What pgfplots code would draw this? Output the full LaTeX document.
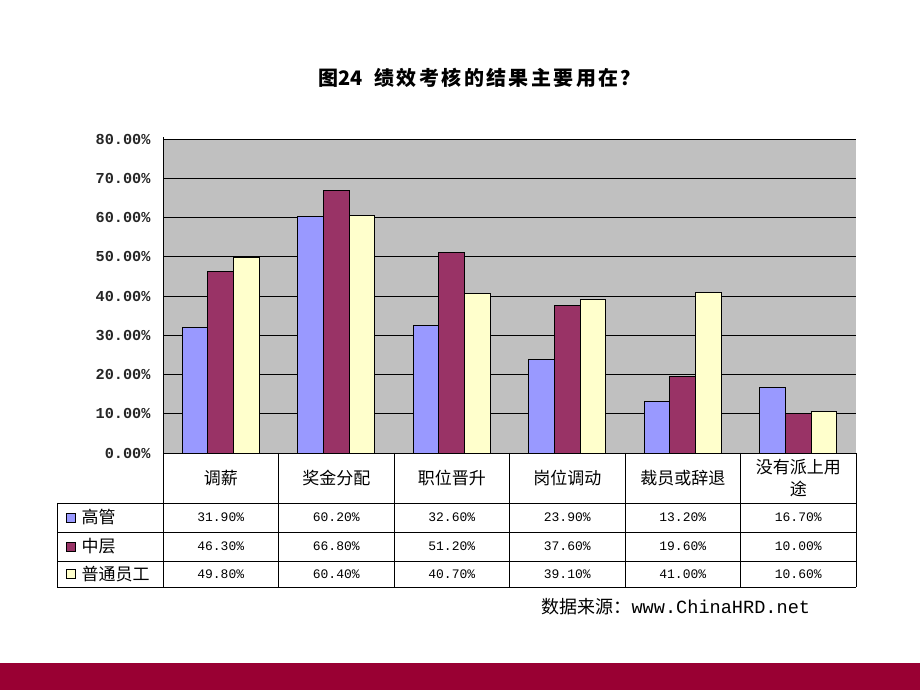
\documentclass[border=0pt]{standalone}
\usepackage{fontspec}
\usepackage{pgfplots}
\pgfplotsset{compat=1.18}
\setmainfont{Noto Sans CJK SC}
\newfontfamily\titlefont[LetterSpace=12]{Noto Sans CJK SC}
\newfontfamily\mono{Liberation Mono}
\definecolor{cA}{HTML}{9999FF}
\definecolor{cB}{HTML}{993366}
\definecolor{cC}{HTML}{FFFFCC}
\definecolor{plotbg}{HTML}{C0C0C0}
\definecolor{band}{HTML}{990033}
\begin{document}
\begin{tikzpicture}[x=1pt,y=1pt]
\path[use as bounding box, fill=white] (0,0) rectangle (920,690);
\fill[band] (0,0) rectangle (920,27);
\node[anchor=west, inner sep=0pt, font=\fontsize{20}{22}\selectfont\bfseries] at (318,612) {图24\hspace{12pt}{\titlefont\bfseries 绩效考核的结果主要用在？}};
\begin{axis}[at={(163pt,237pt)}, anchor=south west, scale only axis,
  width=693pt, height=314pt,
  ymin=0, ymax=80, xmin=-0.5, xmax=5.5,
  ybar=0pt, bar width=25.7pt,
  axis background/.style={fill=plotbg},
  ytick={0,10,20,30,40,50,60,70,80},
  yticklabels={0.00\%,10.00\%,20.00\%,30.00\%,40.00\%,50.00\%,60.00\%,70.00\%,80.00\%},
  yticklabel style={font=\mono\fontsize{15.2}{17}\selectfont\bfseries, text=black!85, xshift=-9pt},
  xtick=\empty,
  ymajorgrids,
  major grid style={black, line width=0.9pt},
  major tick length=0pt,
  axis line style={draw=none},
  every axis plot/.append style={draw=black, line width=0.9pt},
]
\addplot[fill=cA] coordinates {(0,31.9)(1,60.2)(2,32.6)(3,23.9)(4,13.2)(5,16.7)};
\addplot[fill=cB] coordinates {(0,46.3)(1,66.8)(2,51.2)(3,37.6)(4,19.6)(5,10.0)};
\addplot[fill=cC] coordinates {(0,49.8)(1,60.4)(2,40.7)(3,39.1)(4,41.0)(5,10.6)};
\end{axis}
% axis lines
\draw[black, line width=0.9pt] (163,237) -- (163,553);
\draw[black, line width=0.9pt] (163,237) -- (856,237);
% table
\begin{scope}[line width=0.9pt, black]
\foreach \xx in {163,278.5,394,509.5,625,740.5,856} {\draw (\xx,237) -- (\xx,103);}
\draw (57,187) -- (856,187);
\draw (57,158) -- (856,158);
\draw (57,129) -- (856,129);
\draw (57,103) -- (856,103);
\draw (57,187) -- (57,103);
\end{scope}
\begin{scope}[font=\fontsize{17}{20}\selectfont]
\node at (220.75,212) {调薪};
\node at (336.25,212) {奖金分配};
\node at (451.75,212) {职位晋升};
\node at (567.25,212) {岗位调动};
\node at (682.75,212) {裁员或辞退};
\node[align=center, font=\fontsize{17}{22}\selectfont] at (798.25,212) {没有派上用\\途};
\node[anchor=west] at (78,172.5) {高管};
\node[anchor=west] at (78,143.5) {中层};
\node[anchor=west] at (78,116) {普通员工};
\end{scope}
\draw[fill=cA, line width=0.6pt] (66,168) rectangle (75,177);
\draw[fill=cB, line width=0.6pt] (66,139) rectangle (75,148);
\draw[fill=cC, line width=0.6pt] (66,111.5) rectangle (75,120.5);
\begin{scope}[font=\mono\fontsize{13}{15}\selectfont]
\foreach \v [count=\i from 0] in {31.90,60.20,32.60,23.90,13.20,16.70} {\node at (220.75+115.5*\i,172.5) {\v\%};}
\foreach \v [count=\i from 0] in {46.30,66.80,51.20,37.60,19.60,10.00} {\node at (220.75+115.5*\i,143.5) {\v\%};}
\foreach \v [count=\i from 0] in {49.80,60.40,40.70,39.10,41.00,10.60} {\node at (220.75+115.5*\i,116) {\v\%};}
\end{scope}
\node[anchor=west, font=\fontsize{18}{20}\selectfont] at (538,83) {数据来源：{\mono\fontsize{18.6}{20}\selectfont www.ChinaHRD.net}};
\end{tikzpicture}
\end{document}
